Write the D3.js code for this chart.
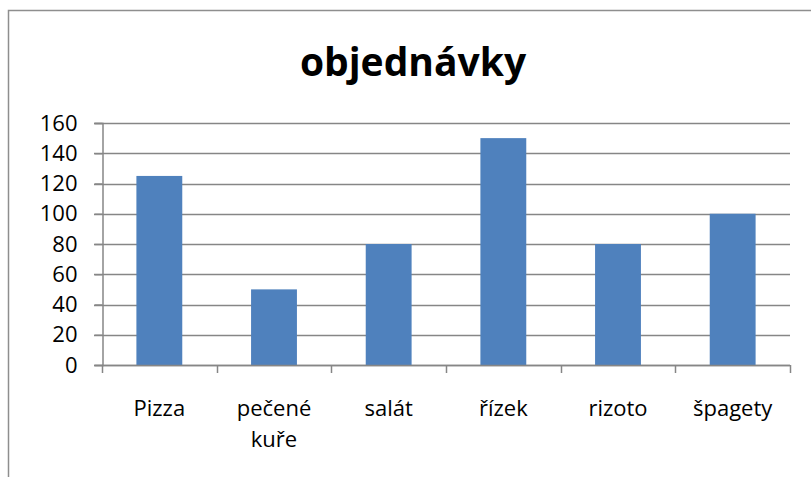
<!DOCTYPE html>
<html>
<head>
<meta charset="utf-8">
<script src="https://cdn.jsdelivr.net/npm/d3@7"></script>
<style>
body { margin: 0; background: #fff; }
text { font-family: "Open Sans", sans-serif; fill: #000; }
</style>
</head>
<body>
<svg id="chart" width="811" height="477"></svg>
<script>
// data
var categories = ["Pizza", "pečené kuře", "salát", "řízek", "rizoto", "špagety"];
var orders = [125, 50, 80, 150, 80, 100];
var yTicks = [0, 20, 40, 60, 80, 100, 120, 140, 160];
var title = "objednávky";

var svg = d3.select("#chart");

// chart frame (only left and top visible)
svg.append("rect")
    .attr("x", 8.5).attr("y", 10.5)
    .attr("width", 900).attr("height", 600)
    .attr("fill", "none")
    .attr("stroke", "#8e8e8e")
    .attr("stroke-width", 1.5);

var plotLeft = 102, plotRight = 790, plotTop = 123, plotBottom = 365;

var x = d3.scaleBand()
    .domain(categories)
    .range([plotLeft, plotRight])
    .paddingInner(0.6)
    .paddingOuter(0.3);

var y = d3.scaleLinear()
    .domain([0, 160])
    .range([plotBottom, plotTop]);

// grid lines
svg.append("g")
    .selectAll("line")
    .data(yTicks)
    .join("line")
    .attr("x1", plotLeft - 8).attr("x2", plotRight)
    .attr("y1", function (d) { return Math.round(y(d)) + 0.5; })
    .attr("y2", function (d) { return Math.round(y(d)) + 0.5; })
    .attr("stroke", "#868686")
    .attr("stroke-width", 1.5);

// bars
svg.append("g")
    .selectAll("rect")
    .data(orders)
    .join("rect")
    .attr("x", function (d, i) { return x(categories[i]); })
    .attr("width", x.bandwidth())
    .attr("y", function (d) { return y(d); })
    .attr("height", function (d) { return y(0) - y(d); })
    .attr("fill", "#4f81bd");

// y axis
var yAxis = svg.append("g")
    .attr("transform", "translate(" + (plotLeft + 0.5) + ",0)")
    .call(d3.axisLeft(y).tickValues(yTicks).tickSize(8).tickPadding(17));
yAxis.select(".domain").attr("stroke", "#868686").attr("stroke-width", 1.5);
yAxis.selectAll(".tick line").attr("stroke", "#868686").attr("stroke-width", 1.5);
yAxis.selectAll(".tick text")
    .style("font-family", "Open Sans")
    .style("font-size", "22px")
    .attr("fill", "#000");

// x axis with ticks between categories
var bounds = d3.range(categories.length + 1).map(function (i) {
    return plotLeft + i * (plotRight - plotLeft) / categories.length;
});
var xg = svg.append("g");
xg.append("line")
    .attr("x1", plotLeft).attr("x2", plotRight)
    .attr("y1", plotBottom + 0.5).attr("y2", plotBottom + 0.5)
    .attr("stroke", "#868686").attr("stroke-width", 1.5);
xg.selectAll(".xt")
    .data(bounds)
    .join("line")
    .attr("class", "xt")
    .attr("x1", function (d) { return Math.round(d) + 0.5; })
    .attr("x2", function (d) { return Math.round(d) + 0.5; })
    .attr("y1", plotBottom).attr("y2", plotBottom + 8)
    .attr("stroke", "#868686").attr("stroke-width", 1.5);

// category labels, wrapped
var labels = xg.selectAll(".xl")
    .data(categories)
    .join("text")
    .attr("class", "xl")
    .attr("text-anchor", "middle")
    .style("font-size", "22px");
labels.each(function (d) {
    var cx = x(d) + x.bandwidth() / 2;
    var words = d === "pečené kuře" ? ["pečené", "kuře"] : [d];
    var t = d3.select(this);
    words.forEach(function (w, j) {
        t.append("tspan")
            .attr("x", cx)
            .attr("y", 416 + j * 31)
            .text(w);
    });
});

// title
svg.append("text")
    .attr("x", 413)
    .attr("y", 76)
    .attr("text-anchor", "middle")
    .style("font-size", "39px")
    .style("font-weight", "bold")
    .text(title);
</script>
</body>
</html>
